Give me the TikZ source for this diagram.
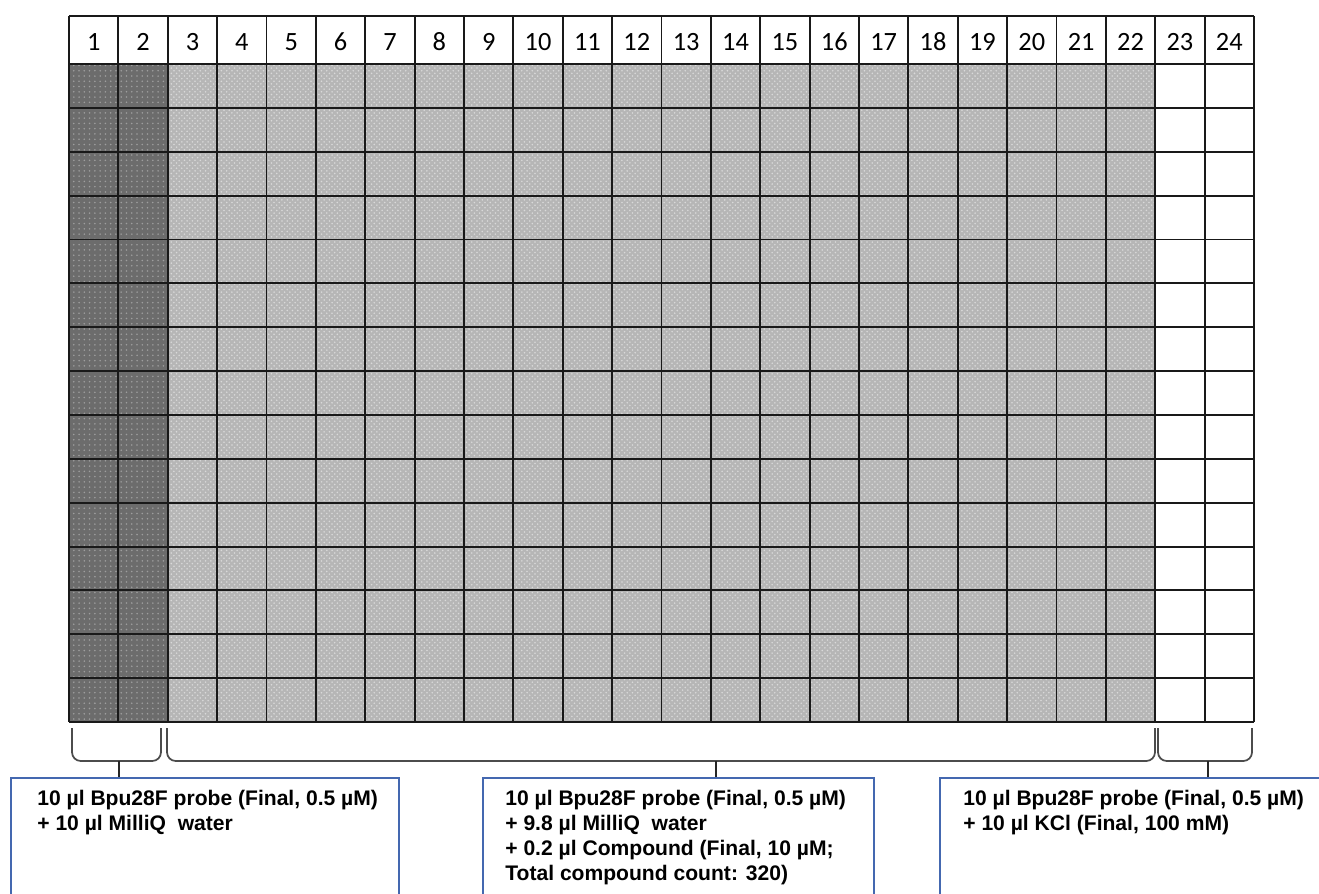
\documentclass[tikz,border=0pt]{standalone}
\usepackage{fontspec}
\setmainfont{Liberation Sans}
\newfontfamily\headfont{Carlito}
\usepackage{xcolor}
\usetikzlibrary{positioning,patterns}

\definecolor{plateblue}{RGB}{68,104,176}
\definecolor{darkwell}{RGB}{108,108,108}
\definecolor{lightwell}{RGB}{182,182,182}

\begin{document}
\begin{tikzpicture}[
  x=0.02cm, y=-0.02cm,
  colnum/.style={font=\headfont\fontsize{15}{17}\selectfont, inner sep=0pt,
                 anchor=base},
  gridline/.style={line width=1.1pt, black!90},
  bracket/.style={line width=1pt, black!70, rounded corners=5pt},
  tick/.style={line width=1.5pt, black!85},
  wellbox/.style={draw=plateblue, line width=1.2pt, anchor=north west,
                  minimum height=4cm, inner sep=0pt},
  boxtext/.style={font=\bfseries\fontsize{12}{14.2}\selectfont,
                  align=left, anchor=north west, inner sep=0pt}
]
\useasboundingbox (0,0) rectangle (1319,893);
\clip (0,0) rectangle (1319,893);

% ── Well fills: controls (1-2), compounds (3-22), KCl (23-24) ──
\fill[darkwell]  (69,64) rectangle (167.75,722);
\fill[pattern=dots, pattern color=black!38] (69,64) rectangle (167.75,722);
\fill[lightwell] (167.75,64) rectangle (1155.25,722);
\fill[pattern=crosshatch dots, pattern color=white!85!black]
     (167.75,64) rectangle (1155.25,722);

% ── Plate grid ──
\foreach \c in {0,...,24}
  \draw[gridline] ({69+\c*49.375},16) -- ({69+\c*49.375},722);
\draw[gridline] (69,16) -- (1254,16);
\foreach \r in {0,...,15}
  \draw[gridline] (69,{64+\r*43.867}) -- (1254,{64+\r*43.867});

% ── Column numbers ──
\foreach \c in {1,...,24}
  \node[colnum] (col\c) at ({69+(\c-0.5)*49.375},50) {\c};

% ── Brackets under the plate ──
\draw[bracket] (72,728) -- (72,761) -- (161,761) -- (161,728);
\draw[bracket] (167,728) -- (167,761) -- (1155,761) -- (1155,728);
\draw[bracket] (1158,728) -- (1158,761) -- (1252,761) -- (1252,728);
\coordinate (ctrlmid) at (119,761);
\coordinate (cmpdmid) at (716,761);
\coordinate (kclmid)  at (1208,761);

% ── Condition boxes ──
\node[wellbox, minimum width=7.76cm] (ctrlbox) at (10,777) {};
\node[wellbox, minimum width=7.82cm] (cmpdbox) at (482,777) {};
\node[wellbox, minimum width=8.2cm]  (kclbox)  at (939,777) {};

\node[boxtext] (ctrltxt) at (37,790)
     {10 µl Bpu28F probe (Final, 0.5 µM)\\+ 10 µl MilliQ\ \ water};
\node[boxtext] (cmpdtxt) at (505,790)
     {10 µl Bpu28F probe (Final, 0.5 µM)\\+ 9.8 µl MilliQ\ \ water\\
      + 0.2 µl Compound (Final, 10 µM;\\Total compound count: 320)};
\node[boxtext] (kcltxt) at (963,790)
     {10 µl Bpu28F probe (Final, 0.5 µM)\\+ 10 µl KCl (Final, 100 mM)};

% ── Bracket → box ticks ──
\draw[tick] (ctrlmid) -- (ctrlmid |- ctrlbox.north);
\draw[tick] (cmpdmid) -- (cmpdmid |- cmpdbox.north);
\draw[tick] (kclmid)  -- (kclmid |- kclbox.north);

\end{tikzpicture}
\end{document}
